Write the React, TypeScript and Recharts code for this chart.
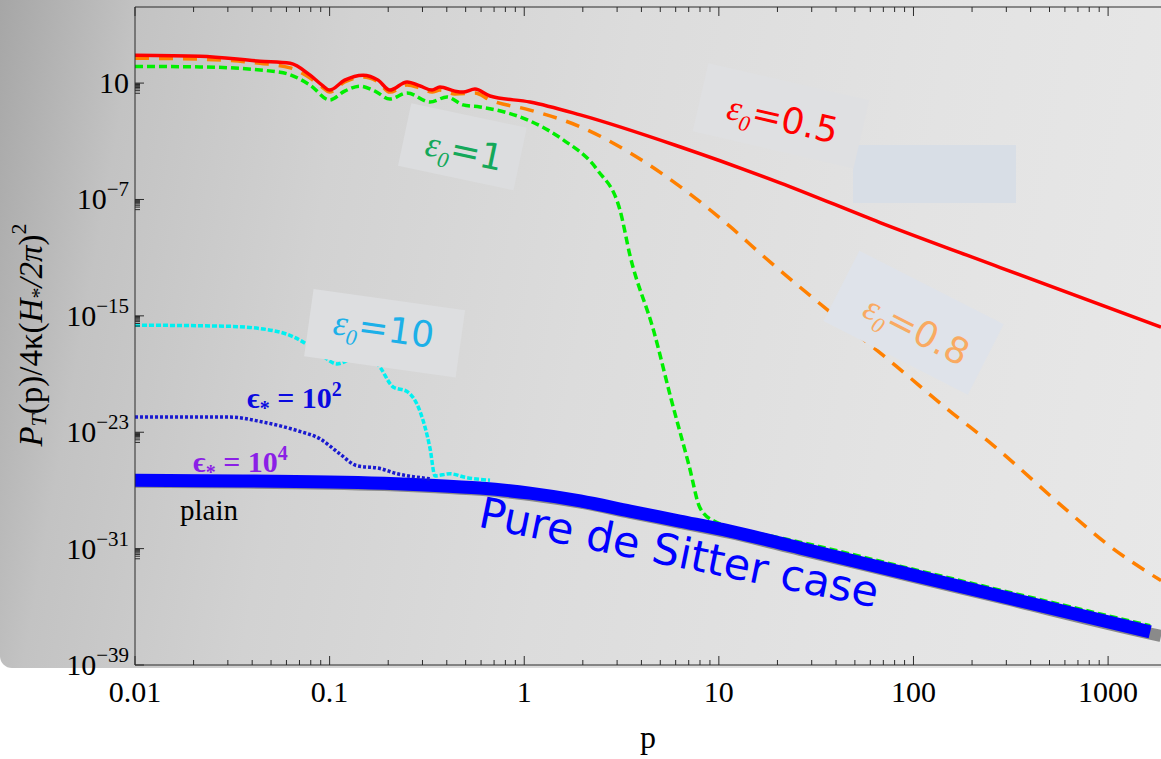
import React from "react";
import { LineChart, Line, XAxis, YAxis } from "recharts";

// ---- data (p, P_T) ----
const eps05 = [
  { p: 0.01, v: 8.3e2 }, { p: 0.0216, v: 7.1e2 }, { p: 0.0439, v: 3.2e2 },
  { p: 0.0627, v: 2.3e2 }, { p: 0.0794, v: 35 }, { p: 0.0914, v: 7.3 },
  { p: 0.1, v: 3.3 }, { p: 0.1195, v: 16 }, { p: 0.1486, v: 35 },
  { p: 0.1775, v: 16 }, { p: 0.204, v: 3.3 }, { p: 0.25, v: 12 },
  { p: 0.292, v: 6.3 }, { p: 0.336, v: 3.3 }, { p: 0.369, v: 5.4 },
  { p: 0.44, v: 2.8 }, { p: 0.485, v: 2.4 }, { p: 0.558, v: 3.9 },
  { p: 0.667, v: 1.3 }, { p: 1.07, v: 0.5 }, { p: 1.94, v: 6.5e-2 },
  { p: 6.3, v: 4.2e-4 }, { p: 20.6, v: 1.4e-6 }, { p: 67.3, v: 2.6e-9 },
  { p: 279, v: 2.1e-12 }, { p: 1870, v: 1.7e-16 },
];

const eps08 = [
  { p: 0.01, v: 5.1e2 }, { p: 0.0216, v: 4.4e2 }, { p: 0.0439, v: 2.3e2 },
  { p: 0.0627, v: 1.1e2 }, { p: 0.0794, v: 22 }, { p: 0.0914, v: 5.4 },
  { p: 0.1, v: 2.4 }, { p: 0.1195, v: 12 }, { p: 0.1486, v: 26 },
  { p: 0.1775, v: 12 }, { p: 0.204, v: 2.4 }, { p: 0.25, v: 7.3 },
  { p: 0.292, v: 4.5 }, { p: 0.336, v: 2.4 }, { p: 0.369, v: 3.3 },
  { p: 0.44, v: 1.8 }, { p: 0.558, v: 2.1 }, { p: 0.667, v: 0.69 },
  { p: 1.07, v: 0.14 }, { p: 1.94, v: 1e-2 }, { p: 3.5, v: 1.6e-4 },
  { p: 6.3, v: 8e-7 }, { p: 11.4, v: 1.4e-9 }, { p: 16.9, v: 1.3e-11 },
  { p: 37.5, v: 1.7e-15 }, { p: 81.5, v: 3.5e-19 }, { p: 152, v: 3.2e-22 },
  { p: 256, v: 1.3e-24 }, { p: 594, v: 6.3e-29 }, { p: 1000, v: 1.8e-31 },
  { p: 1870, v: 6.3e-34 },
];

const eps1 = [
  { p: 0.01, v: 1.4e2 }, { p: 0.0216, v: 1.3e2 }, { p: 0.0556, v: 56 },
  { p: 0.0794, v: 7.3 }, { p: 0.1, v: 0.69 }, { p: 0.1195, v: 2.8 },
  { p: 0.143, v: 6.2 }, { p: 0.171, v: 2.8 }, { p: 0.204, v: 0.8 },
  { p: 0.25, v: 2.1 }, { p: 0.328, v: 0.5 }, { p: 0.401, v: 1.1 },
  { p: 0.485, v: 0.32 }, { p: 0.593, v: 0.23 }, { p: 1.07, v: 2.5e-2 },
  { p: 1.58, v: 1.3e-3 }, { p: 2.37, v: 1.1e-5 }, { p: 3.1, v: 2e-8 },
  { p: 3.5, v: 1.3e-11 }, { p: 4.64, v: 8e-17 }, { p: 5.68, v: 2e-21 },
  { p: 7.03, v: 5e-26 }, { p: 8.0, v: 6.3e-29 }, { p: 9.44, v: 7.9e-30 },
  { p: 18.5, v: 7.4e-31 }, { p: 26.1, v: 2.8e-31 }, { p: 85, v: 6.3e-33 },
  { p: 279, v: 1.4e-34 }, { p: 1645, v: 5e-37 },
];

const eps10 = [
  { p: 0.01, v: 2.3e-16 }, { p: 0.0308, v: 1.9e-16 }, { p: 0.0556, v: 7.6e-17 },
  { p: 0.0765, v: 1.1e-17 }, { p: 0.0925, v: 1.7e-18 }, { p: 0.109, v: 5e-19 },
  { p: 0.138, v: 1.4e-18 }, { p: 0.175, v: 5e-19 }, { p: 0.212, v: 1.3e-20 },
  { p: 0.25, v: 6.3e-21 }, { p: 0.292, v: 2.5e-22 }, { p: 0.328, v: 7.9e-25 },
  { p: 0.348, v: 1e-26 }, { p: 0.416, v: 1.4e-26 }, { p: 0.497, v: 8e-27 },
  { p: 0.667, v: 5e-27 },
];

const epsStar2 = [
  { p: 0.01, v: 1.1e-22 }, { p: 0.0308, v: 1.1e-22 }, { p: 0.0455, v: 5e-23 },
  { p: 0.068, v: 1.3e-23 }, { p: 0.0893, v: 3.5e-24 }, { p: 0.113, v: 3.2e-25 },
  { p: 0.138, v: 5e-26 }, { p: 0.182, v: 3.2e-26 }, { p: 0.222, v: 1.4e-26 },
  { p: 0.268, v: 8.9e-27 }, { p: 0.328, v: 6.3e-27 },
];

const deSitter = [
  { p: 0.01, v: 5.1e-27 }, { p: 0.1, v: 3.8e-27 }, { p: 0.328, v: 2.3e-27 },
  { p: 0.593, v: 1.45e-27 }, { p: 1.07, v: 6.5e-28 }, { p: 1.94, v: 1.9e-28 },
  { p: 3.5, v: 3.8e-29 }, { p: 6.3, v: 7.9e-30 }, { p: 11.4, v: 1.6e-30 },
  { p: 26.1, v: 1.1e-31 }, { p: 85, v: 2.5e-33 }, { p: 279, v: 5.5e-35 },
  { p: 1645, v: 1.9e-37 },
];

const plain = [
  { p: 0.01, v: 3.9e-27 }, { p: 0.1, v: 2.9e-27 }, { p: 0.328, v: 1.75e-27 },
  { p: 0.593, v: 1.1e-27 }, { p: 1.07, v: 4.9e-28 }, { p: 1.94, v: 1.45e-28 },
  { p: 3.5, v: 2.9e-29 }, { p: 6.3, v: 6e-30 }, { p: 11.4, v: 1.2e-30 },
  { p: 26.1, v: 8.3e-32 }, { p: 85, v: 1.9e-33 }, { p: 279, v: 4.2e-35 },
  { p: 1645, v: 1.45e-37 }, { p: 1870, v: 1e-37 },
];

// ---- ticks ----
const xMajor = [0.01, 0.1, 1, 10, 100, 1000];
const xTickLabels = ["0.01", "0.1", "1", "10", "100", "1000"];
const yMajor = [10, 1e-7, 1e-15, 1e-23, 1e-31, 1e-39];
const yTickExps = ["", "\u22127", "\u221215", "\u221223", "\u221231", "\u221239"];

const X_DOMAIN = [0.01, 1870];
const Y_DOMAIN = [1e-39, 1.7e6];

const xMinor = xMajor.flatMap((d) =>
  [2, 3, 4, 5, 6, 7, 8, 9].map((m) => m * d)
).filter((v) => v < X_DOMAIN[1]);
const yMinor = yMajor.flatMap((d) =>
  [2, 3, 4, 5, 6, 7, 8, 9].map((m) => (m * d) / 10)
).filter((v) => v > Y_DOMAIN[0]);

const xTicks = [...xMajor, ...xMinor];
const yTicks = [...yMajor, ...yMinor];

const W = 1161;
const H = 759;
const SERIF = "'Liberation Serif', 'Times New Roman', serif";
const SANS = "'DejaVu Sans', sans-serif";
const AXIS = "#2b2b2b";

const BottomTick = (props: any) => {
  const { x, y, payload } = props;
  const idx = xMajor.indexOf(payload.value);
  return (
    <g>
      <line x1={x} x2={x} y1={y} y2={y - (idx >= 0 ? 9 : 5)} stroke={AXIS} />
      {idx >= 0 && (
        <text x={x} y={y + 37} textAnchor="middle" fontFamily={SERIF} fontSize={30} fill="#000">
          {xTickLabels[idx]}
        </text>
      )}
    </g>
  );
};

const TopTick = (props: any) => {
  const { x, y, payload } = props;
  const major = xMajor.indexOf(payload.value) >= 0;
  return <line x1={x} x2={x} y1={y} y2={y + (major ? 9 : 5)} stroke={AXIS} />;
};

const LeftTick = (props: any) => {
  const { x, y, payload } = props;
  const idx = yMajor.indexOf(payload.value);
  return (
    <g>
      <line x1={x} x2={x + (idx >= 0 ? 9 : 5)} y1={y} y2={y} stroke={AXIS} />
      {idx >= 0 && (
        <text x={x - 6} y={y + 10} textAnchor="end" fontFamily={SERIF} fontSize={30} fill="#000">
          10
          {yTickExps[idx] && (
            <tspan dy={-13} fontSize={21}>
              {yTickExps[idx]}
            </tspan>
          )}
        </text>
      )}
    </g>
  );
};

const Eps = ({ sub }: { sub: string }) => (
  <>
    <tspan fontFamily={SERIF} fontStyle="italic">ε</tspan>
    <tspan fontFamily={SERIF} fontStyle="italic" fontSize={22} dy={8}>{sub}</tspan>
  </>
);

const Labels = () => (
  <svg width={W} height={H} style={{ position: "absolute", left: 0, top: 0, pointerEvents: "none" }}>
    {/* translucent boxes behind labels */}
    <rect x={853} y={145} width={163} height={58} fill="#d8dee6" />
    <g transform="translate(780,131) rotate(13)">
      <rect x={-85} y={-50} width={165} height={70} fill="#dfe0e2" />
      <text textAnchor="middle" fontFamily={SANS} fontSize={36} fill="#ff0000">
        <Eps sub="0" />
        <tspan dy={-8} fontStyle="normal">=0.5</tspan>
      </text>
    </g>
    <g transform="translate(462,163) rotate(12)">
      <rect x={-62} y={-48} width={118} height={64} fill="#dcdddf" />
      <text textAnchor="middle" fontFamily={SANS} fontSize={36} fill="#14a85a">
        <Eps sub="0" />
        <tspan dy={-8} fontStyle="normal">=1</tspan>
      </text>
    </g>
    <g transform="translate(382,341) rotate(8)">
      <rect x={-75} y={-42} width={153} height={68} fill="#dddee0" />
      <text textAnchor="middle" fontFamily={SANS} fontSize={36} fill="#1cb0e8">
        <Eps sub="0" />
        <tspan dy={-8} fontStyle="normal">=10</tspan>
      </text>
    </g>
    <g transform="translate(911,341) rotate(27)">
      <rect x={-87} y={-57} width={162} height={79} fill="#dfe3ea" />
      <text textAnchor="middle" fontFamily={SANS} fontSize={36} fill="#f9aa62">
        <Eps sub="0" />
        <tspan dy={-8} fontStyle="normal">=0.8</tspan>
      </text>
    </g>
    <text x={247} y={408} fontFamily={SERIF} fontSize={30} fontWeight="bold" fill="#0a0ae0">
      ϵ<tspan fontSize={20} dy={7}>*</tspan>
      <tspan dy={-7}> = 10</tspan>
      <tspan fontSize={20} dy={-12}>2</tspan>
    </text>
    <text x={193} y={472} fontFamily={SERIF} fontSize={30} fontWeight="bold" fill="#8b1fe6">
      ϵ<tspan fontSize={20} dy={7}>*</tspan>
      <tspan dy={-7}> = 10</tspan>
      <tspan fontSize={20} dy={-12}>4</tspan>
    </text>
    <text x={180} y={520} fontFamily={SERIF} fontSize={29} fill="#000">plain</text>
    <g transform="translate(676,567) rotate(11.5)">
      <text textAnchor="middle" fontFamily={SANS} fontSize={43} fill="#0000ff">
        Pure de Sitter case
      </text>
    </g>
    {/* axis titles */}
    <g transform="translate(31,335) rotate(-90)">
      <text textAnchor="middle" dominantBaseline="central" fontFamily={SERIF} fontSize={33} fill="#000">
        <tspan fontStyle="italic">P</tspan>
        <tspan fontStyle="italic" fontSize={22} dy={7}>T</tspan>
        <tspan dy={-7}>(p)/4κ(</tspan>
        <tspan fontStyle="italic">H</tspan>
        <tspan fontSize={22} dy={7}>*</tspan>
        <tspan dy={-7} fontStyle="italic">/2π</tspan>
        <tspan>)</tspan>
        <tspan fontSize={22} dy={-13}>2</tspan>
      </text>
    </g>
    <text x={648} y={748} textAnchor="middle" fontFamily={SERIF} fontSize={32} fill="#000">p</text>
  </svg>
);

const lineProps = {
  dataKey: "v",
  dot: false,
  activeDot: false,
  type: "monotone" as const,
  isAnimationActive: false,
};

export default function App() {
  return (
    <div style={{ position: "absolute", left: 0, top: 0, width: W, height: H, background: "#fff", overflow: "hidden" }}>
      <div
        style={{
          position: "absolute",
          left: 0,
          top: 0,
          width: W,
          height: 668,
          borderBottomLeftRadius: 12,
          background:
            "linear-gradient(100deg, #a6a6a6 0%, #c3c3c3 11%, #d2d2d2 28%, #dcdcdc 50%, #e3e3e3 75%, #e8e8e8 100%)",
        }}
      />
      <div style={{ position: "absolute", left: 0, top: 0 }}>
        <LineChart width={W} height={H} margin={{ top: 0, right: 0, bottom: 0, left: 0 }}>
          <XAxis
            dataKey="p"
            type="number"
            scale="log"
            domain={X_DOMAIN}
            allowDataOverflow
            ticks={xTicks}
            interval={0}
            height={94}
            tickSize={0}
            tickMargin={0}
            tickLine={false}
            tick={<BottomTick />}
            axisLine={{ stroke: AXIS }}
          />
          <XAxis
            xAxisId="top"
            orientation="top"
            dataKey="p"
            type="number"
            scale="log"
            domain={X_DOMAIN}
            allowDataOverflow
            ticks={xTicks}
            interval={0}
            height={7}
            tickSize={0}
            tickMargin={0}
            tickLine={false}
            tick={<TopTick />}
            axisLine={{ stroke: AXIS }}
          />
          <YAxis
            type="number"
            scale="log"
            domain={Y_DOMAIN}
            allowDataOverflow
            ticks={yTicks}
            interval={0}
            width={135}
            tickSize={0}
            tickMargin={0}
            tickLine={false}
            tick={<LeftTick />}
            axisLine={{ stroke: AXIS }}
          />
          <Line {...lineProps} data={plain} stroke="#8a8a8a" strokeWidth={12} />
          <Line {...lineProps} data={eps1} stroke="#00ee00" strokeWidth={3.5} strokeDasharray="8 4" />
          <Line {...lineProps} data={deSitter} stroke="#0000ff" strokeWidth={13} />
          <Line {...lineProps} data={epsStar2} stroke="#1a1ad0" strokeWidth={3.5} strokeDasharray="3 2" />
          <Line {...lineProps} data={eps10} stroke="#00f0f0" strokeWidth={3.5} strokeDasharray="5 2" />
          <Line {...lineProps} data={eps08} stroke="#ff8000" strokeWidth={3.5} strokeDasharray="14 10" />
          <Line {...lineProps} data={eps05} stroke="#ff0000" strokeWidth={3.5} />
        </LineChart>
      </div>
      <Labels />
    </div>
  );
}
